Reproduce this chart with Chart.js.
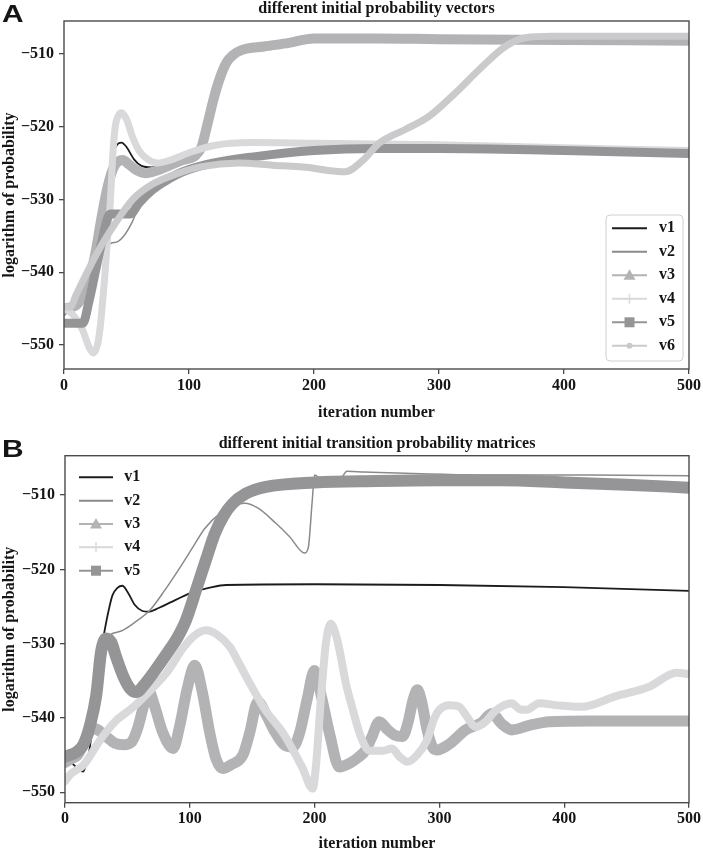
<!DOCTYPE html>
<html>
<head>
<meta charset="utf-8">
<script src="https://cdn.jsdelivr.net/npm/chart.js@4.4.1/dist/chart.umd.min.js"></script>
<style>
  body { margin: 0; background: #fff; }
  canvas { position: absolute; left: 0; }
</style>
</head>
<body>
<canvas id="chartA" width="703" height="425" style="top:0"></canvas>
<canvas id="chartB" width="703" height="425" style="top:425px"></canvas>
<script>
// ---- tick labels ----
const xTicks = [0, 100, 200, 300, 400, 500];
const yTicks = [-550, -540, -530, -520, -510];

// ---- panel A: different initial probability vectors ----
const aV1x = [0, 10, 17, 20, 25, 30, 35, 38, 42, 46, 50, 56, 62, 70, 80, 90, 100, 110, 130, 200, 300, 400, 500];
const aV1y = [-547, -547, -546.8, -546, -540, -533, -527.7, -524.5, -522.6, -522.2, -522.8, -524.5, -525.4, -525.6, -525.2, -524.4, -523.6, -523.0, -522.4, -522.3, -522.5, -522.8, -523.2];

const aV2x = [0, 10, 20, 28, 33, 38, 43, 48, 54, 60, 70, 80, 100, 150, 200, 300, 400, 500];
const aV2y = [-546, -544, -540.5, -537.5, -536.5, -536, -535.8, -535, -533.3, -531, -528.6, -527.3, -525.8, -524.2, -523.3, -523.0, -523.2, -523.6];

const aV3x = [0, 10, 20, 25, 30, 35, 40, 47, 52, 58, 65, 75, 85, 95, 105, 110, 115, 120, 125, 130, 135, 142, 160, 180, 200, 250, 300, 400, 500];
const aV3y = [-545, -544.5, -541, -537.5, -532.5, -528.2, -525.5, -524.6, -525.2, -526, -526.4, -526, -525.3, -524.6, -524, -522.8, -519.5, -516, -513.2, -511.2, -510.2, -509.5, -509, -508.5, -507.9, -507.9, -508, -508.1, -508.2];

const aV4x = [0, 5, 10, 15, 20, 23.5, 27, 29, 30.5, 32, 33.5, 35.5, 37, 39, 41, 43.5, 46, 50, 55, 60, 67, 75, 85, 100, 120, 150, 200, 300, 400, 500];
const aV4y = [-545, -545.5, -546.5, -548, -550.3, -551.1, -549.8, -547.5, -544.8, -541.9, -538.5, -533.7, -530.5, -524, -520, -518.5, -518.1, -519, -521.5, -523.3, -524.5, -525, -524.6, -523.6, -522.6, -522.2, -522.3, -522.5, -522.9, -523.3];

const aV5x = [0, 15, 20, 25, 30, 35, 37, 45, 53, 60, 70, 80, 90, 100, 120, 150, 200, 250, 300, 400, 500];
const aV5y = [-547, -547, -544, -540, -536, -532.5, -532, -532, -532, -530.5, -528.8, -527.6, -526.6, -525.9, -525, -524.2, -523.3, -523.0, -523.0, -523.3, -523.7];

const aV6x = [0, 5, 10, 20, 30, 41, 55, 70, 90, 110, 140, 167, 194, 210, 225, 240, 252, 273, 292, 313, 332, 353, 369, 390, 500];
const aV6y = [-544.7, -544.8, -543, -539.5, -536.3, -533.3, -530, -528, -526.5, -525.5, -525, -525.3, -525.6, -526, -526.2, -524.5, -522.3, -520.4, -518.6, -515.4, -512.2, -509, -507.8, -507.6, -507.6];

// ---- panel B: different initial transition probability matrices ----
const bV1x = [0, 5, 10, 14.6, 17, 20, 22.6, 25, 28, 32, 35, 38, 42, 46, 50, 56, 62, 67, 75, 85, 95, 103, 115, 129, 200, 300, 400, 500];
const bV1y = [-545.5, -546, -546.8, -547.2, -546.2, -543.9, -539.4, -535.3, -531.8, -528, -525.5, -523.5, -522.5, -522.2, -523, -524.8, -525.6, -525.7, -525.2, -524.4, -523.6, -523, -522.5, -522.1, -522, -522.1, -522.4, -522.9];

const bV2x = [0, 10, 20, 27, 33, 45, 57, 68, 80, 90, 102.5, 112, 124, 135, 144, 155, 169, 180, 192, 195, 198, 200, 206, 214, 221, 226, 240, 340, 420, 500];
const bV2y = [-546, -545.5, -541, -534, -529.5, -528.3, -527, -525.5, -522.8, -520.3, -517, -514.5, -512.5, -511.4, -511.1, -511.8, -513.8, -515.6, -517.8, -517, -511, -507.3, -508, -508.2, -507.8, -506.8, -506.9, -507.3, -507.3, -507.4];

const bV3x = [0, 5, 10, 15, 20, 24, 28, 33, 40, 47, 53, 58, 62, 66.6, 72, 78, 86.6, 92, 98, 104, 110, 116, 121, 126.5, 133, 142.5, 148, 154.5, 161, 168, 175, 182.5, 188, 194, 199.8, 206, 212, 219.8, 228, 235, 241, 246, 251.8, 258, 264, 270.4, 275, 279, 282.4, 286, 290, 294.4, 298, 308, 321, 334, 342, 350, 358, 372, 388, 420, 500];
const bV3y = [-546, -545.5, -545, -543.5, -541.8, -541.4, -541.8, -542.5, -543.4, -543.6, -543.3, -541.5, -539, -536.2, -538.5, -541.8, -544.1, -541, -536, -532.9, -536.5, -542, -545.5, -546.8, -546.3, -545, -542, -537.8, -539.5, -541.8, -543.5, -543.9, -542, -537.5, -533.6, -537.5, -542.1, -546.6, -546.1, -545.3, -544.3, -542.5, -540.5, -541.5, -542.3, -542.5, -540.5, -537.5, -536.2, -538, -541.5, -543.9, -544.3, -543.5, -541.6, -540.6, -539.4, -540.8, -541.6, -541, -540.5, -540.4, -540.4];

const bV4x = [0, 5, 15, 28, 40, 55, 70, 81, 95, 103, 113, 122, 132, 140, 148, 160, 175, 190, 198.4, 201, 205, 209, 213, 217, 220, 225, 230, 237, 244, 255, 262, 268, 274.4, 282, 290, 296, 300, 308, 316, 322, 329, 337, 345, 358, 364, 370, 380, 395, 414, 441, 468, 490, 500];
const bV4y = [-548.5, -547.5, -546.3, -543, -540.5, -538.5, -536, -534, -530.5, -529, -528.2, -528.8, -530.4, -532.8, -535.3, -538.8, -542.1, -546.6, -549.5, -546.6, -537.6, -530, -527.3, -528.8, -530.9, -535.3, -538.5, -542.5, -544.4, -544.4, -544.1, -545.2, -545.9, -545, -543, -540, -538.9, -538.3, -538.5, -539.8, -541.2, -540.5, -539, -538, -538.8, -538.9, -538, -538.3, -538.5, -537.1, -535.8, -533.9, -534.1];

const bV5x = [0, 10, 15, 20, 25, 29, 33, 37, 41, 47, 52, 57, 65, 76, 85, 90, 97, 105, 113, 120, 127, 134, 145, 161, 200, 250, 300, 350, 400, 450, 500];
const bV5y = [-545.2, -544.5, -543.5, -541, -537, -531, -529.3, -529.8, -531.8, -534.5, -536, -536.5, -535.2, -532.7, -530.5, -529.2, -526.8, -522.8, -518.7, -515.2, -512.8, -511.2, -509.8, -508.9, -508.3, -508.1, -508.0, -508.0, -508.3, -508.6, -509];

// ---- styles ----
const SERIF = '"Liberation Serif", "Times New Roman", serif';
const seriesStyle = {
  v1: { color: '#1c1c1c', marker: null },
  v2: { color: '#8a8a8a', marker: null },
  v3: { color: '#b3b3b5', marker: 'tri' },
  v4: { color: '#d9d9db', marker: 'plus' },
  v5: { color: '#959597', marker: 'square' },
  v6: { color: '#cacacc', marker: 'dot' }
};

function pts(xs, ys) { return xs.map((x, i) => ({ x: x, y: ys[i] })); }

function makeSet(label, xs, ys, width, order) {
  return {
    label: label,
    data: pts(xs, ys),
    borderColor: seriesStyle[label].color,
    borderWidth: width,
    pointRadius: 0,
    cubicInterpolationMode: 'monotone',
    borderJoinStyle: 'round',
    borderCapStyle: 'round',
    order: order
  };
}

function drawMarker(ctx, kind, cx, cy, color) {
  ctx.fillStyle = color;
  ctx.strokeStyle = color;
  if (kind === 'tri') {
    ctx.beginPath();
    ctx.moveTo(cx, cy - 6);
    ctx.lineTo(cx + 6, cy + 4.5);
    ctx.lineTo(cx - 6, cy + 4.5);
    ctx.closePath();
    ctx.fill();
  } else if (kind === 'plus') {
    ctx.lineWidth = 1.4;
    ctx.beginPath();
    ctx.moveTo(cx - 5, cy); ctx.lineTo(cx + 5, cy);
    ctx.moveTo(cx, cy - 5); ctx.lineTo(cx, cy + 5);
    ctx.stroke();
  } else if (kind === 'square') {
    ctx.fillRect(cx - 5, cy - 5, 10, 10);
  } else if (kind === 'dot') {
    ctx.beginPath();
    ctx.arc(cx, cy, 3, 0, Math.PI * 2);
    ctx.fill();
  }
}

// frame, legend, titles, axis labels
const decor = {
  id: 'decor',
  afterDraw(chart, args, o) {
    const ctx = chart.ctx, a = chart.chartArea;
    ctx.save();
    ctx.strokeStyle = '#4a4a4a';
    ctx.lineWidth = 1.4;
    ctx.strokeRect(a.left, a.top, a.right - a.left, a.bottom - a.top);

    const L = o.legend;
    if (L.frame) {
      ctx.beginPath();
      ctx.roundRect(L.frame[0], L.frame[1], L.frame[2], L.frame[3], 4);
      ctx.fillStyle = 'rgba(255,255,255,0.85)';
      ctx.fill();
      ctx.strokeStyle = '#d0d0d0';
      ctx.lineWidth = 1;
      ctx.stroke();
    }
    chart.data.datasets.forEach((ds, i) => {
      const y = L.y0 + i * L.dy;
      const st = seriesStyle[ds.label];
      ctx.strokeStyle = st.color;
      ctx.lineWidth = 2;
      ctx.beginPath();
      ctx.moveTo(L.x0, y);
      ctx.lineTo(L.x1, y);
      ctx.stroke();
      drawMarker(ctx, st.marker, (L.x0 + L.x1) / 2, y, st.color);
      ctx.fillStyle = '#151515';
      ctx.font = 'bold 16px ' + SERIF;
      ctx.textAlign = 'left';
      ctx.textBaseline = 'middle';
      ctx.fillText(ds.label, L.tx, y);
    });

    const cx = (a.left + a.right) / 2, cy = (a.top + a.bottom) / 2;
    ctx.fillStyle = '#151515';
    ctx.textAlign = 'center';
    ctx.textBaseline = 'alphabetic';
    ctx.font = 'bold 16px ' + SERIF;
    ctx.fillText(o.title, cx, o.titleY);
    ctx.fillText('iteration number', cx, o.xLabelY);
    ctx.save();
    ctx.translate(13.5, cy);
    ctx.rotate(-Math.PI / 2);
    ctx.fillText('logarithm of probability', 0, 0);
    ctx.restore();

    ctx.save();
    ctx.translate(2, o.letterY);
    ctx.scale(1.3, 1);
    ctx.textAlign = 'left';
    ctx.font = 'bold 23px "Liberation Sans", Arial, sans-serif';
    ctx.fillText(o.letter, 0, 0);
    ctx.restore();
    ctx.restore();
  }
};

function tickLabel(v) { return v < 0 ? '\u2212' + Math.abs(v) : String(v); }

function makeChart(id, datasets, yMin, yMax, box, decorOpts) {
  const axisFont = { family: SERIF, size: 16, weight: 'bold' };
  const grid = { display: true, drawOnChartArea: false, drawTicks: true, tickLength: 5, color: '#4a4a4a', lineWidth: 1.3 };
  return new Chart(document.getElementById(id), {
    type: 'line',
    data: { datasets: datasets },
    options: {
      responsive: false,
      animation: false,
      events: [],
      layout: { padding: { left: 0, top: box.top, right: box.right, bottom: 0 } },
      scales: {
        x: {
          type: 'linear', min: 0, max: 500,
          grid: grid, border: { display: false },
          afterBuildTicks: s => { s.ticks = xTicks.map(v => ({ value: v })); },
          afterFit: s => { s.height = box.xh; },
          ticks: { font: axisFont, color: '#151515', padding: 2, maxRotation: 0, callback: tickLabel }
        },
        y: {
          type: 'linear', min: yMin, max: yMax,
          grid: grid, border: { display: false },
          afterBuildTicks: s => { s.ticks = yTicks.map(v => ({ value: v })); },
          afterFit: s => { s.width = box.yw; },
          ticks: { font: axisFont, color: '#151515', padding: 5, callback: tickLabel }
        }
      },
      plugins: { legend: { display: false }, tooltip: { enabled: false }, decor: decorOpts }
    },
    plugins: [decor]
  });
}

makeChart('chartA', [
  makeSet('v1', aV1x, aV1y, 1.8, 6),
  makeSet('v2', aV2x, aV2y, 1.5, 5),
  makeSet('v3', aV3x, aV3y, 10, 4),
  makeSet('v4', aV4x, aV4y, 7, 3),
  makeSet('v5', aV5x, aV5y, 9, 2),
  makeSet('v6', aV6x, aV6y, 7, 1)
], -553.3, -505.5, { top: 21, right: 12.5, xh: 56, yw: 64 }, {
  title: 'different initial probability vectors', titleY: 13, xLabelY: 417, letter: 'A', letterY: 22,
  legend: { frame: [606, 215, 77, 146], x0: 612, x1: 647, tx: 659, y0: 228.3, dy: 23.5 }
});

makeChart('chartB', [
  makeSet('v1', bV1x, bV1y, 1.8, 5),
  makeSet('v2', bV2x, bV2y, 1.5, 4),
  makeSet('v3', bV3x, bV3y, 11, 3),
  makeSet('v4', bV4x, bV4y, 8, 2),
  makeSet('v5', bV5x, bV5y, 12, 1)
], -551.4, -504.7, { top: 30.7, right: 12.3, xh: 47.3, yw: 65 }, {
  title: 'different initial transition probability matrices', titleY: 23.3, xLabelY: 423, letter: 'B', letterY: 31.5,
  legend: { frame: null, x0: 79, x1: 113, tx: 124.3, y0: 52.3, dy: 23.35 }
});
</script>
</body>
</html>
